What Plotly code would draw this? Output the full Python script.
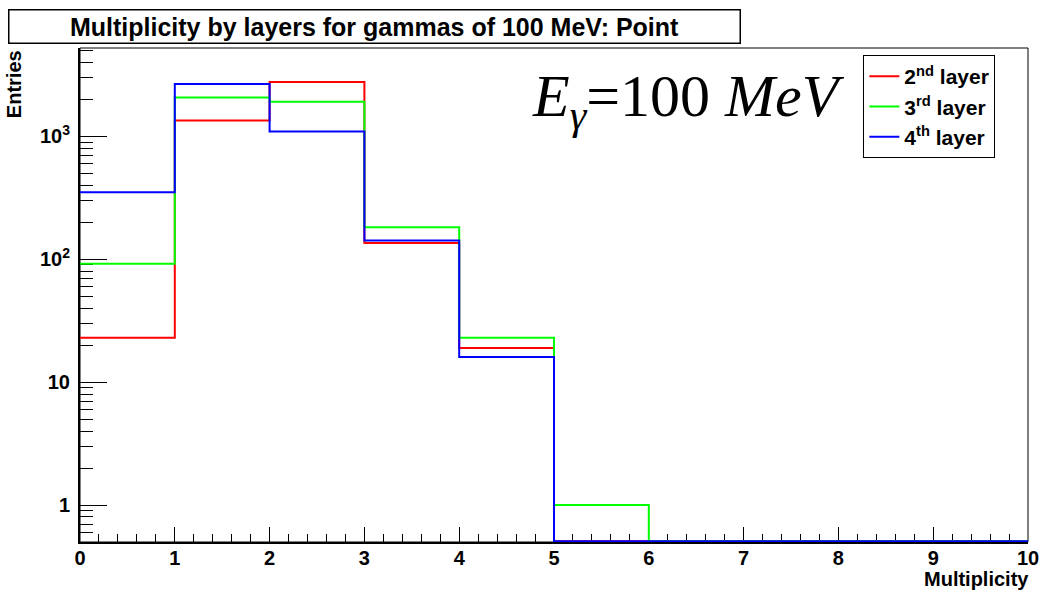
import plotly.graph_objects as go
import math

# ---- data ----
bin_edges = [0, 1, 2, 3, 4, 5, 6, 7, 8, 9, 10]
layer2 = [23, 1350, 2770, 136, 19, 0, 0, 0, 0, 0]
layer3 = [92, 2080, 1915, 182, 23, 1, 0, 0, 0, 0]
layer4 = [352, 2670, 1100, 142, 16, 0, 0, 0, 0, 0]
series_names = ["2<sup>nd</sup> layer", "3<sup>rd</sup> layer", "4<sup>th</sup> layer"]
series_colors = ["#ff0000", "#00ff00", "#0000ff"]
y_major = [1, 10, 100, 1000]
y_major_text = ["1", "10", "10<sup>2</sup>", "10<sup>3</sup>"]
x_ticks = list(range(0, 11))

Y_MIN = 0.5
Y_MAX = 5250
ZERO_DRAW = 0.506  # empty bins are drawn along the bottom edge, as ROOT does

FONT = "Liberation Sans, Arial, sans-serif"

fig = go.Figure()
for vals, name, col in zip([layer2, layer3, layer4], series_names, series_colors):
    yy = [v if v > 0 else ZERO_DRAW for v in vals]
    yy = yy + [yy[-1]]
    fig.add_trace(go.Scatter(
        x=bin_edges, y=yy, mode="lines", name=name,
        line=dict(color=col, width=2, shape="hv"),
    ))

y_minor = []
for d in [0.1, 1, 10, 100, 1000]:
    for k in range(2, 10):
        v = k * d
        if Y_MIN <= v <= Y_MAX:
            y_minor.append(v)

fig.update_layout(
    width=1051, height=591,
    margin=dict(l=80, r=21, t=48, b=49),
    paper_bgcolor="white", plot_bgcolor="white",
    font=dict(family=FONT, color="black"),
    showlegend=True,
    legend=dict(
        x=(865 - 80) / 950, y=(542 - 55) / 494, xanchor="left", yanchor="top",
        bordercolor="black", borderwidth=1, bgcolor="white",
        font=dict(family=FONT, size=21, weight="bold"),
        itemwidth=30, tracegroupgap=0, entrywidth=158,
    ),
    xaxis=dict(
        range=[0, 10], tickvals=x_ticks, ticks="inside", ticklen=15, tickwidth=1,
        tickcolor="black", showgrid=False, zeroline=False,
        showline=True, linecolor="black", linewidth=2, layer="below traces",
        tickfont=dict(family=FONT, size=20, weight="bold"),
        ticklabelstandoff=-3,
        minor=dict(dtick=0.2, ticks="inside", ticklen=8, tickcolor="black", tickwidth=1),
    ),
    yaxis=dict(
        type="log", range=[math.log10(Y_MIN), math.log10(Y_MAX)],
        tickvals=y_major, ticktext=y_major_text,
        ticks="inside", ticklen=27, tickwidth=1, tickcolor="black",
        showgrid=False, zeroline=False,
        showline=True, linecolor="black", linewidth=2, layer="below traces",
        tickfont=dict(family=FONT, size=20, weight="bold"),
        ticklabelstandoff=4,
        minor=dict(tickmode="array", tickvals=y_minor, ticks="inside", ticklen=13,
                   tickcolor="black", tickwidth=1),
    ),
)

# frame box
fig.add_shape(type="rect", xref="paper", yref="paper", x0=0, y0=0, x1=1, y1=1,
              line=dict(color="black", width=1), layer="below")

# title box
fig.add_annotation(
    xref="paper", yref="paper", x=(375 - 80) / 950, y=(542 - 27) / 494,
    xanchor="center", yanchor="middle", showarrow=False,
    text="Multiplicity by layers for gammas of 100 MeV: Point",
    font=dict(family=FONT, size=25, weight="bold"),
    width=728, height=30, bordercolor="black", borderwidth=1.5, borderpad=1,
    bgcolor="white",
)

# axis titles
fig.add_annotation(
    xref="paper", yref="paper", x=(14 - 80) / 950, y=(542 - 84) / 494,
    xanchor="center", yanchor="middle", showarrow=False, textangle=-90,
    text="Entries", font=dict(family=FONT, size=20, weight="bold"),
)
fig.add_annotation(
    xref="paper", yref="paper", x=1.003, y=(542 - 579) / 494,
    xanchor="right", yanchor="middle", showarrow=False,
    text="Multiplicity", font=dict(family=FONT, size=20, weight="bold"),
)

# energy label
fig.add_annotation(
    xref="paper", yref="paper", x=(531 - 80) / 950, y=(542 - 100) / 494,
    xanchor="left", yanchor="middle", showarrow=False,
    text="<i>E</i><sub><i>γ</i></sub>=100 <i>MeV</i>",
    font=dict(family="Liberation Serif, DejaVu Serif, serif", size=60),
)

fig.write_html("out.html")
